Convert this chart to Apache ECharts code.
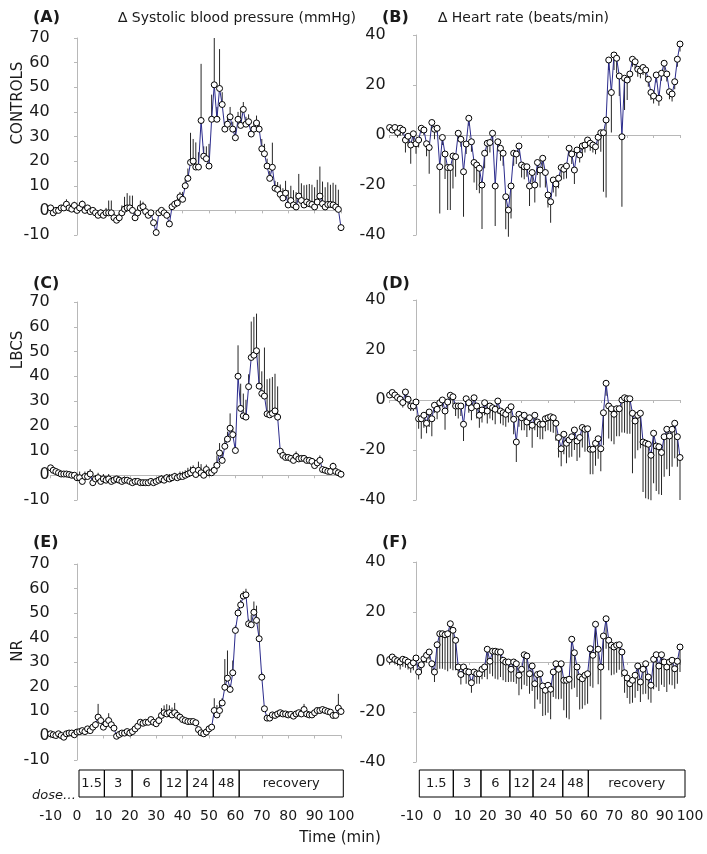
<!DOCTYPE html>
<html><head><meta charset="utf-8">
<script src="https://cdn.jsdelivr.net/npm/echarts@6/dist/echarts.min.js"></script>
<style>html,body{margin:0;padding:0;background:#fff}#c{width:707px;height:854px}</style>
</head><body><div id="c"></div>
<script>
// time axis: minutes from -10 to 100, one point per minute
const tStart = -10;

// (A) CONTROLS, delta SBP
const sbpControls = [1,-1,0,0,1,1,2.5,1,0.5,2, 0,1,2.5,0,1,-0.5,0,-1,-2,-1, -2,-1,-1,-1,-3,-4,-3,-1,0.5,1, 1,0,-3,-1,1,1.5,-0.5,-2,-1,-5, -9,-1,0,-1,-2,-5.5,1.5,2.5,3,5.5, 4.5,10,13,19.5,20,17.6,17.6,36.5,22,21, 18,37,51,37,49.5,43,33,35,38,33, 29.5,37,34.5,41,35,36,31,33,35.5,33, 25,23,18,13,17.5,9,8.5,6.5,5,7, 2.2,4,2.2,1.4,5.8,4,2.2,3.4,2.7,2.4, 1.4,3.4,5.8,2.7,1.4,2.4,2.4,2.2,1.4,0.4,-7];
const sbpControlsErr = [1,0.5,0.5,0.5,1,1,2,1,1,1.5, 1,1,1.5,1,1,1,1,1,1,1.5, 1.5,2,5,5,2,2,2,3,5,6, 5,6,3,2,3,2,2,1,1,1, 1,1,1,1,1,1,1,1.5,1.5,2, 3,3,4,12,9,10,6,23,4,5, 9,10,19,5,16,5,3,3,4,3, 3,3,6,3,3,3,3,3,3,3, 4,4,3,3,10,3,3,4,4,5, 6,6,6,6,9,7,8,7,8,8, 8,9,12,9,8,9,8,9,9,8,1];

// (B) CONTROLS, delta HR
const hrControls = [3,2,3,1,2.7,2,-2,-0.5,-4,0.5, -3.5,-2,2.7,2,-3.5,-5,5,2.3,2.7,-12.7, -1,-7.6,-13,-13,-8.4,-8.7,0.7,-1.7,-14.7,-3.6, 6.7,-2.7,-11,-12,-13.3,-20,-7.3,-3.3,-3,0.7, -20.4,-2.7,-5.3,-7.3,-24.7,-30,-20.4,-7.3,-7.6,-4.4, -12,-12.7,-12.7,-20.4,-15,-20,-11,-14,-9.3,-15, -24,-26.7,-18,-19.6,-17.3,-13,-13.7,-12.4,-5.3,-7.6, -14,-6,-8,-4.4,-4,-2,-3.3,-4,-4.7,-0.9, 0.9,0.9,6,30,17,32,30.7,23.6,-0.7,22.7, 22,24.4,30.3,29.3,26.3,25.7,27,26,22.3,17, 15.6,24,14.7,24.7,28.7,24.4,17.3,16.4,21.3,30.3,36.4];
const hrControlsErr = [1,1,2,2,3,2,5,3,7.5,3, 4,3,2,2,5,10.5,3,4,2,18.7, 3,10,17,17,13,8,3,3,18,4, 3,4,8,10,10,17.6,6,5,4,3, 16,4,5,5,13,10.7,13,5,4,4, 5,5,4,8,4,7,5,7,4,6, 5,8.4,5,5,4,5,4,5,3,4, 5.6,3,3,3,3,3,3,3,3,3, 7.6,23.6,31,4,16,6,6,8,28,12.7, 8,3,3,3,3,3,3,3,3,3, 3,3,3,3,3,3,3,3,3,3,3];

// (C) LBCS, delta SBP
const sbpLBCS = [3,2,1.5,1,0.5,0.5,0.5,0.3,0,0, -1,-1,-2.5,-0.5,-0.5,0.5,-3,-1.5,-1,-2.5, -1.5,-2,-1.5,-2.5,-2,-1.5,-2,-2.5,-2,-2, -2.5,-3,-2.5,-2.5,-3,-3,-3,-3,-2.5,-3, -2.5,-2,-1.5,-2,-1,-1.5,-1,-0.5,-1,-0.5, -0.5,0,0.5,1,2,0.3,2,1,0,2.3, 1,1,2,4,9,6,11.7,14.6,19,16.4, 10,40,27,24,23.5,35.8,47.6,48.5,50.3,36, 33,32,24.8,24.4,25,26,23.5,9.7,8,7.2, 7.2,6.8,6,7.6,6.6,6.8,6.8,6,6,5.6, 3.9,5,6,2.3,2,1.6,1.5,3.6,1.5,1,0.4];
const sbpLBCSErr = [1,1,1,1,1,1,1,1,1,1, 1.5,2.5,1,2,2,2,1,1.5,2,1, 2,1.5,2,1,1.5,1,1.5,1,1.5,1, 1,1,1,1,1.5,1,1,1,1,1.5, 1,1.5,1.5,1,1.5,2,1.5,1.5,1.5,2, 2,2,2.5,2.5,2,2,3.5,3.5,2,2, 1.5,2,3,4,4,3,3,3,6,3, 2,12.5,10,9,7,5,14.5,15.5,15,14, 9,19.6,14,14.7,14.7,15,12.4,1,1,1, 1,1,1,2,1,1,1,1,1,1, 1,1,2,1,1,1,1,1.5,1,1,1];

// (D) LBCS, delta HR
const hrLBCS = [2,3,2,1,0.3,-1,3.2,0.3,-2.4,-2.4, -0.8,-7.5,-7.5,-6.1,-9.3,-4.8,-7.5,-2.1,-3.7,-1.1, 0,-4.4,-0.8,1.9,1.3,-2.4,-2.4,-2.4,-9.7,0.5, -1.1,-3.1,0.9,-2.4,-6.1,-4,-1.1,-4.4,-2.4,-3.1, -3.7,-0.4,-4.4,-5.1,-5.7,-4,-2.7,-7.7,-16.8,-5.7, -7.1,-6.1,-8.8,-7.1,-10.1,-6.1,-8.8,-9.7,-9.7,-7.5, -7.1,-6.7,-7.1,-9.3,-15,-19.5,-13.7,-17.3,-16,-14.7, -12,-16.4,-15,-11,-11.7,-11.5,-19.7,-19.7,-17.3,-15.5, -19.5,-5.1,6.7,-2.4,-3.5,-5.7,-3.5,-3.5,0,0.9, 0.5,0.5,-5.3,-8.4,-6.1,-5.3,-16.8,-17.3,-17.7,-22.1, -13.3,-18.4,-18.7,-21,-14.7,-11.7,-14.4,-11.7,-9.3,-14.7,-23];
const hrLBCSErr = [1,1,1,1,2,2,2,2,2,2, 3,4,8,5,4,6,7,3,4,3, 3,7.5,3,3,3,4,5,4,6.7,3, 4,5,4,5,5,5,5,5,5,5, 6,5,5,5,5,5,5,6,8,5, 5,6,6,5,9,6,6,6,6,5, 5,6,6,7,8,7,8,8,7,8, 8,8,8,8,9,9,10,10,9,8, 9,13,5,13,13,12,11,11,13,14, 14,14,24,15,14,14,20,22,22,18, 20,18,19,17,16,16,16,15,14,12,17];

// (E) NR, delta SBP
const sbpNR = [0.7,0.3,0,0.7,0,-0.7,0.7,1,1,0.3, 1.4,1.6,2,1.6,2.7,2,3.4,4.4,7.5,6.1, 3.4,4.8,6.1,4.4,3,-0.3,0.4,1,1,1.6, 1,1.6,2.7,3.8,5.4,5,5.4,5.4,6.5,5.4, 4.8,6.1,8.2,9.3,8.8,9.3,8.4,9.3,8.2,7.5, 6.5,6.1,5.7,5.7,5.7,5.2,2.4,1.1,0.7,1.4, 2.7,3.4,10.2,8.4,10.2,13.3,19.7,23.4,18.8,25.6, 42.9,50,53.3,56.9,57.4,45.6,45.2,50.3,47,39.5, 23.8,10.9,7.1,7.1,8.4,8.2,8.8,9.3,8.8,8.8, 8.4,8.6,7.9,8.8,9.3,8.8,10.6,8.8,8.4,8.4, 9.3,10.2,10.2,10.6,10.2,9.8,9.5,8.2,8.2,11.2,9.8];
const sbpNRErr = [0.5,0.5,0.5,0.5,0.5,0.5,0.5,0.5,0.5,0.5, 0.5,0.5,0.5,0.5,1,1,1,1.5,5.4,2, 1,2,3,2,1,0.5,0.5,0.5,0.5,0.5, 0.5,0.5,0.5,0.5,1,1,1,1,1,1, 1,2,3,3,4,3,3,4,2,1, 1,1,1,1,1,1,1,1,1,1, 1,1,5,4,4,2,11.5,11.3,2,5, 2,2,2,2,2.5,2,4,4.4,6,6.8, 2,1,1,1,1,1,1,1,1,1, 1,1,1,1,1,1,2.3,1,1,1, 1,1,1,1,1,1,1,1,1,5.8,1];

// (F) NR, delta HR
const hrNR = [1,2,1,0.5,0,1.1,0.7,0,-1.3,-0.3, 1.6,-4,-1.1,1.3,2.7,4,-0.7,-4,6.9,11.3, 11.3,10.9,11.3,15.3,12.7,8.7,-2,-5,-2,-3.7, -4,-8.3,-4,-4.7,-4.7,-2.9,-2,5.1,0.3,4.3, 4.3,4,4,0.7,0,0,-2.9,0,-0.7,-5.3, -2.9,2.9,2.4,-4.7,-1.6,-8.7,-5,-4.7,-9.6,-11.3, -9.3,-10.9,-4,-0.7,-2.9,-0.7,-7.3,-7.3,-6.9,9.1, 3.7,-2,-6,-6.7,-5.3,-4.7,5.3,2.7,15.1,5.1, -2,10.4,17.3,8.7,6.7,6,6.7,6.9,4,-4.3, -6.4,-8.7,-7.3,-5.3,-1.6,-8,-2.9,-0.7,-6,-9.3, 1.1,2.9,-1.6,2.9,0,-2,0,0.7,-2.7,0.3,6];
const hrNRErr = [2,2,2,2,3,3,3,3,3,3, 3,3,3,3,3,3,3,4,10,14, 14,14,15,18,16,12,3,4,4,5, 4,4,4,4,4,4,4,12,5,10, 11,11,10,8,8,8,5,8,8,8, 8,12,12,8,10,10,10,12,12,10, 11,12,10,14,12,14,12,15,16,20, 14,12,13,12,12,12,15,13,12,14, 21,12,12,12,12,11,11,10,10,8, 8,8,9,9,10,8,10,12,9,7, 12,13,10,12,10,10,9,10,8,9,10];

// axis ticks
const sbpTicks = {min: -10, max: 70, interval: 10};
const hrTicks = {min: -40, max: 40, interval: 20};
const timeTicks = {min: -10, max: 100, interval: 10};

// dose table
const doseLabels = ['1.5', '3', '6', '12', '24', '48', 'recovery'];
const doseEdgesLeft = [0, 9.6, 20.1, 31, 40.9, 50.8, 60.6, 100];
const doseEdgesRight = [0, 12.8, 23.2, 34.1, 42.8, 54, 63.6, 100];

const panels = [
  {vals: sbpControls, err: sbpControlsErr, sign: 1, ticks: sbpTicks, left: 50.6, top: 38, height: 197},
  {vals: hrControls, err: hrControlsErr, sign: -1, ticks: hrTicks, left: 389.6, top: 35, height: 200},
  {vals: sbpLBCS, err: sbpLBCSErr, sign: 1, ticks: sbpTicks, left: 50.6, top: 302, height: 198},
  {vals: hrLBCS, err: hrLBCSErr, sign: -1, ticks: hrTicks, left: 389.6, top: 300, height: 200},
  {vals: sbpNR, err: sbpNRErr, sign: 1, ticks: sbpTicks, left: 50.6, top: 564, height: 196},
  {vals: hrNR, err: hrNRErr, sign: -1, ticks: hrTicks, left: 389.6, top: 562, height: 200}
];
const W = 290.4;
const FONT = 'DejaVu Sans';
const AX = '#b8b8b8';

const grid = [], xAxis = [], yAxis = [], series = [];
panels.forEach((p, i) => {
  grid.push({left: p.left, top: p.top, width: W, height: p.height, containLabel: false});
  xAxis.push({type: 'value', gridIndex: i, min: timeTicks.min, max: timeTicks.max, interval: timeTicks.interval,
    axisLine: {show: true, onZero: true, lineStyle: {color: AX, width: 1}},
    axisTick: {show: true, length: 3, lineStyle: {color: AX}},
    axisLabel: {show: false}, splitLine: {show: false}});
  const yLine = yAxis.length;
  yAxis.push({type: 'value', gridIndex: i, min: p.ticks.min, max: p.ticks.max, interval: p.ticks.interval,
    axisLine: {show: true, onZero: true, lineStyle: {color: AX, width: 1}},
    axisTick: {show: true, length: 3, lineStyle: {color: AX}},
    axisLabel: {show: false}, splitLine: {show: false}});
  yAxis.push({type: 'value', gridIndex: i, min: p.ticks.min, max: p.ticks.max, interval: p.ticks.interval,
    position: 'left', offset: i % 2 === 0 ? -3 : 0,
    axisLine: {show: false, onZero: false}, axisTick: {show: false}, splitLine: {show: false},
    axisLabel: {show: true, fontFamily: FONT, fontSize: 16, color: '#1a1a1a', margin: 4}});
  const pts = p.vals.map((v, k) => [tStart + k, v]);
  const errPts = p.vals.map((v, k) => [tStart + k, v, p.err[k]]);
  series.push({type: 'custom', xAxisIndex: i, yAxisIndex: yLine, z: 2, silent: true,
    data: errPts, encode: {x: 0, y: 1}, clip: false,
    renderItem: (params, api) => {
      const t = api.value(0), v = api.value(1), e = api.value(2);
      const a = api.coord([t, v]), b = api.coord([t, v + p.sign * e]);
      return {type: 'line', shape: {x1: a[0], y1: a[1], x2: b[0], y2: b[1]},
        style: {stroke: '#262626', lineWidth: 1}};
    }});
  series.push({type: 'line', xAxisIndex: i, yAxisIndex: yLine, z: 3, data: pts,
    symbol: 'circle', symbolSize: 6, showSymbol: true,
    lineStyle: {color: '#2b2b8c', width: 1},
    itemStyle: {color: '#ffffff', borderColor: '#000000', borderWidth: 1}});
});

// bottom time labels (two separate label rows)
const labelRows = [{left: 50.6, width: 290.4}, {left: 412, width: 278}];
labelRows.forEach((r) => {
  const gi = grid.length;
  grid.push({left: r.left, top: 805, width: r.width, height: 1});
  xAxis.push({type: 'value', gridIndex: gi, min: timeTicks.min, max: timeTicks.max, interval: timeTicks.interval,
    axisLine: {show: false}, axisTick: {show: false}, splitLine: {show: false},
    axisLabel: {show: true, fontFamily: FONT, fontSize: 14, color: '#1a1a1a', margin: 3}});
  yAxis.push({type: 'value', gridIndex: gi, min: 0, max: 1, show: false});
});

// dose tables
const doseRows = [{left: 79, width: 264.3, edges: doseEdgesLeft}, {left: 419.3, width: 265.7, edges: doseEdgesRight}];
doseRows.forEach((r) => {
  const gi = grid.length;
  grid.push({left: r.left, top: 770, width: r.width, height: 27});
  const xi = xAxis.length;
  xAxis.push({type: 'value', gridIndex: gi, min: 0, max: 100, show: false});
  const yi = yAxis.length;
  yAxis.push({type: 'value', gridIndex: gi, min: 0, max: 1, show: false});
  const cells = doseLabels.map((lab, k) => [r.edges[k], r.edges[k + 1], lab]);
  series.push({type: 'custom', xAxisIndex: xi, yAxisIndex: yi, silent: true,
    data: cells.map(c => [c[0], c[1]]),
    renderItem: (params, api) => {
      const a = api.coord([api.value(0), 1]);
      const b = api.coord([api.value(1), 0]);
      return {type: 'group', children: [
        {type: 'rect', shape: {x: a[0], y: a[1], width: b[0] - a[0], height: b[1] - a[1]},
          style: {fill: 'none', stroke: '#000', lineWidth: 1}},
        {type: 'text', style: {text: cells[params.dataIndex][2], x: (a[0] + b[0]) / 2, y: (a[1] + b[1]) / 2,
          textAlign: 'center', textVerticalAlign: 'middle', font: '13px "DejaVu Sans"', fill: '#1a1a1a'}}
      ]};
    }});
});

const txt = (text, x, y, opts) => ({type: 'text', x: x, y: y, style: Object.assign({text: text, font: '16px "DejaVu Sans"', fill: '#1a1a1a', textVerticalAlign: 'middle'}, opts || {})});
const graphic = [
  txt('(A)', 33, 18, {font: 'bold 16px "DejaVu Sans"'}),
  txt('(B)', 382, 18, {font: 'bold 16px "DejaVu Sans"'}),
  txt('(C)', 33, 284, {font: 'bold 16px "DejaVu Sans"'}),
  txt('(D)', 382, 284, {font: 'bold 16px "DejaVu Sans"'}),
  txt('(E)', 33, 543, {font: 'bold 16px "DejaVu Sans"'}),
  txt('(F)', 382, 543, {font: 'bold 16px "DejaVu Sans"'}),
  txt('\u2206 Systolic blood pressure (mmHg)', 118, 18, {font: '14px "DejaVu Sans"'}),
  txt('\u2206 Heart rate (beats/min)', 438, 18, {font: '14px "DejaVu Sans"'}),
  {type: 'text', x: 18, y: 103, rotation: Math.PI / 2, style: {text: 'CONTROLS', font: '15px "DejaVu Sans"', fill: '#1a1a1a', textAlign: 'center', textVerticalAlign: 'middle'}},
  {type: 'text', x: 18, y: 350, rotation: Math.PI / 2, style: {text: 'LBCS', font: '15px "DejaVu Sans"', fill: '#1a1a1a', textAlign: 'center', textVerticalAlign: 'middle'}},
  {type: 'text', x: 18, y: 651, rotation: Math.PI / 2, style: {text: 'NR', font: '15px "DejaVu Sans"', fill: '#1a1a1a', textAlign: 'center', textVerticalAlign: 'middle'}},
  txt('dose\u2026', 32, 796, {font: 'italic 13px "DejaVu Sans"'}),
  txt('Time (min)', 340, 838, {font: '15px "DejaVu Sans"', textAlign: 'center'})
];

const chart = echarts.init(document.getElementById('c'), null, {renderer: 'canvas'});
chart.setOption({animation: false, backgroundColor: '#fff', grid, xAxis, yAxis, series, graphic});
</script></body></html>
